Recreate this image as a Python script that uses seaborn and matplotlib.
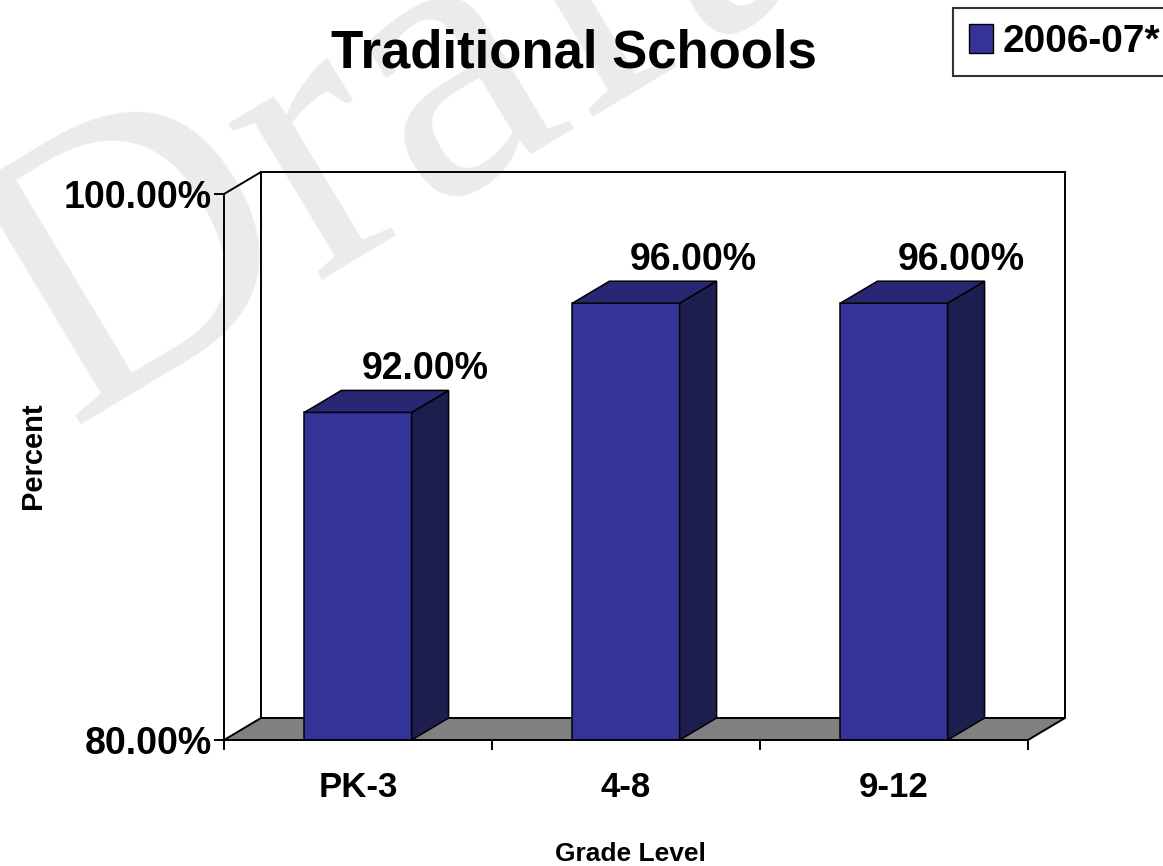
import matplotlib
matplotlib.use('Agg')
import pandas as pd
import matplotlib.pyplot as plt
import seaborn as sns
from matplotlib.patches import Polygon, Patch
from matplotlib.transforms import IdentityTransform

# ======= data =======
grades = ['PK-3', '4-8', '9-12']
percents = [92.0, 96.0, 96.0]
series_name = '2006-07*'
y_ticks = [80, 100]
y_tick_labels = ['80.00%', '100.00%']

# ======= style =======
sns.set_theme(style='white')
plt.rcParams['font.family'] = ['Liberation Sans', 'DejaVu Sans']
plt.rcParams['font.weight'] = 'bold'
plt.rcParams['text.color'] = 'black'
plt.rcParams['xtick.color'] = 'black'
plt.rcParams['ytick.color'] = 'black'
plt.rcParams['xtick.labelcolor'] = 'black'
plt.rcParams['ytick.labelcolor'] = 'black'

FRONT = '#333399'
TOP = '#272774'
SIDE = '#1d1d4e'
FLOOR = '#808080'
DX, DY = 37, 22   # depth of the 3d look, in pixels

W, H = 1163, 866
fig = plt.figure(figsize=(W / 100, H / 100), dpi=100)
fig.patch.set_facecolor('white')

# watermark behind everything
fig.text(70 / W, 1 - 425 / H, 'Draft', rotation=31, rotation_mode='anchor',
         ha='left', va='baseline', fontsize=285, color='#ebebeb',
         family='Liberation Serif', weight='normal', zorder=-1)

# front plane of the chart: x 224..1028 px, y 194 (100%)..740 (80%) px
ax = fig.add_axes([224 / W, 1 - 740 / H, (1028 - 224) / W, (740 - 194) / H])
ax.patch.set_alpha(0)

df = pd.DataFrame({'grade': grades, 'pct': percents})
sns.barplot(data=df, x='grade', y='pct', color=FRONT, saturation=1, width=0.4,
            edgecolor='black', linewidth=1.1, ax=ax, zorder=5)
ax.set_xlim(-0.5, 2.5)
ax.set_ylim(80, 100)

fig.canvas.draw()
td = ax.transData


def to_px(x, y, back=False):
    px, py = td.transform((x, y))
    if back:
        px, py = px + DX, py + DY
    return (px, py)


def poly(pts, fc, z, lw=1.1):
    p = Polygon(pts, closed=True, facecolor=fc, edgecolor='black', linewidth=lw,
                transform=IdentityTransform(), clip_on=False, zorder=z)
    ax.add_artist(p)


x0, x1 = -0.5, 2.5
# back wall
poly([to_px(x0, 80, True), to_px(x0, 100, True), to_px(x1, 100, True), to_px(x1, 80, True)],
     'none', 1, lw=1.4)
# floor
poly([to_px(x0, 80), to_px(x1, 80), to_px(x1, 80, True), to_px(x0, 80, True)], FLOOR, 2, lw=1.4)
# diagonal from the top of the y axis to the wall
ax.add_line(plt.Line2D(*zip(to_px(x0, 100), to_px(x0, 100, True)), color='black', lw=1.4,
                       transform=IdentityTransform(), clip_on=False, zorder=2))

# sides and tops of the bars
for i, v in enumerate(percents):
    l, r = i - 0.2, i + 0.2
    poly([to_px(r, 80), to_px(r, v), to_px(r, v, True), to_px(r, 80, True)], SIDE, 6)
    poly([to_px(l, v), to_px(r, v), to_px(r, v, True), to_px(l, v, True)], TOP, 6)
    ax.annotate(f'{v:.2f}%', xy=(i, v), xytext=(67, 33), textcoords='offset pixels',
                ha='center', va='baseline', fontsize=27, fontweight='bold', color='black',
                annotation_clip=False, zorder=7)

# axes / ticks
sns.despine(ax=ax, top=True, right=True, left=False, bottom=False)
for s in ['left', 'bottom']:
    ax.spines[s].set_color('black')
    ax.spines[s].set_linewidth(1.4)
    ax.spines[s].set_zorder(8)
ax.set_yticks(y_ticks)
ax.set_yticklabels(y_tick_labels)
ax.tick_params(axis='y', direction='out', length=7, width=1.4, color='black',
               labelcolor='black', labelsize=27, pad=2, left=True)
ax.set_xticks(range(len(grades)))
ax.set_xticklabels(grades)
ax.set_xticks([-0.5, 0.5, 1.5, 2.5], minor=True)
ax.tick_params(axis='x', which='major', length=0, labelsize=25, pad=22, labelcolor='black')
ax.tick_params(axis='x', which='minor', direction='out', length=7, width=1.4,
               color='black', bottom=True)
for t in ax.get_xticklabels() + ax.get_yticklabels():
    t.set_fontweight('bold')
ax.set_xlabel('')
ax.set_ylabel('')

fig.text(574 / W, 1 - 68 / H, 'Traditional Schools', ha='center', va='baseline',
         fontsize=38, fontweight='bold', color='black')
fig.text(33 / W, 1 - 456 / H, 'Percent', rotation=90, ha='center', va='center',
         fontsize=21, fontweight='bold', color='black')
fig.text(630 / W, 1 - 861 / H, 'Grade Level', ha='center', va='baseline',
         fontsize=19, fontweight='bold', color='black')

leg = fig.legend(handles=[Patch(facecolor=FRONT, edgecolor='black', label=series_name)],
                 loc='upper left', bbox_to_anchor=(953 / W, 1 - 8 / H),
                 frameon=True, fancybox=False, fontsize=28, handlelength=0.62,
                 handleheight=0.8, handletextpad=0.25, borderpad=0.4, borderaxespad=0)
leg.get_frame().set_edgecolor('black')
leg.get_frame().set_linewidth(1.5)
for t in leg.get_texts():
    t.set_fontweight('bold')
    t.set_color('black')

plt.savefig('out.png', dpi=100)
